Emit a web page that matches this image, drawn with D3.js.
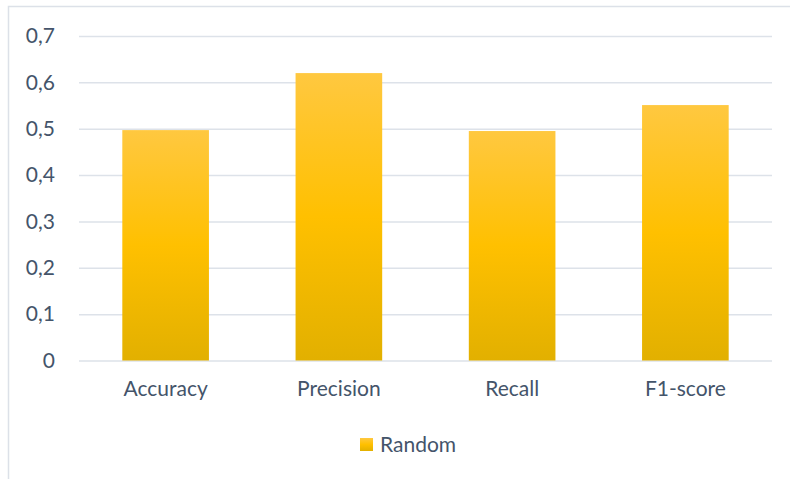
<!DOCTYPE html>
<html>
<head>
<meta charset="utf-8">
<script src="https://cdn.jsdelivr.net/npm/d3@7"></script>
<style>
  html, body { margin: 0; padding: 0; background: #fff; }
  svg { display: block; }
  text { font-family: Lato, "Open Sans", sans-serif; fill: #44546A; }
</style>
</head>
<body>
<svg id="chart" width="790" height="479"></svg>
<script>
// Scores of the random baseline per metric
const categories = ["Accuracy", "Precision", "Recall", "F1-score"];
const values = [0.497, 0.620, 0.495, 0.551];
const yTicks = [0, 0.1, 0.2, 0.3, 0.4, 0.5, 0.6, 0.7];
const seriesName = "Random";

const svg = d3.select("#chart");
const W = 790, H = 479;
const plot = { left: 79, right: 772, top: 36, bottom: 360.5 };
const fontSize = 21;

// Chart frame
svg.append("rect")
  .attr("x", 8.5).attr("y", 6.5)
  .attr("width", W + 10).attr("height", H + 10)
  .attr("fill", "none").attr("stroke", "#DCE1E8").attr("stroke-width", 1.5);

// Vertical gradient for the bars
const defs = svg.append("defs");
const grad = defs.append("linearGradient")
  .attr("id", "barFill").attr("x1", 0).attr("y1", 0).attr("x2", 0).attr("y2", 1);
grad.append("stop").attr("offset", "0%").attr("stop-color", "#FFC840");
grad.append("stop").attr("offset", "50%").attr("stop-color", "#FFC000");
grad.append("stop").attr("offset", "100%").attr("stop-color", "#E2B000");

const x = d3.scaleBand().domain(categories)
  .range([plot.left, plot.right]).paddingInner(0.5).paddingOuter(0.25);
const y = d3.scaleLinear().domain([0, 0.7]).range([plot.bottom, plot.top]);

// Gridlines and tick labels
const fmt = v => d3.format(".1~f")(v).replace(".", ",");
const yAxis = d3.axisLeft(y).tickValues(yTicks).tickFormat(fmt)
  .tickSize(-(plot.right - plot.left)).tickPadding(24);
const gy = svg.append("g").attr("transform", `translate(${plot.left},0)`).call(yAxis);
gy.select(".domain").remove();
gy.selectAll(".tick line").attr("stroke", "#DDE2E9").attr("stroke-width", 1.5);
gy.selectAll(".tick text")
  .attr("font-size", fontSize).attr("fill", "#44546A").attr("stroke", "none")
  .style("font-family", "Lato, 'Open Sans', sans-serif");

// Bars
svg.append("g").selectAll("rect")
  .data(categories.map((c, i) => ({ c, v: values[i] })))
  .join("rect")
  .attr("x", d => x(d.c))
  .attr("y", d => y(d.v))
  .attr("width", x.bandwidth())
  .attr("height", d => y(0) - y(d.v))
  .attr("fill", "url(#barFill)");

// Category labels
const xAxis = d3.axisBottom(x).tickSize(0).tickPadding(21);
const gx = svg.append("g").attr("transform", `translate(0,${plot.bottom})`).call(xAxis);
gx.select(".domain").remove();
gx.selectAll(".tick text")
  .attr("font-size", fontSize).attr("fill", "#44546A")
  .style("font-family", "Lato, 'Open Sans', sans-serif");

// Legend
const legend = svg.append("g").attr("transform", "translate(360,438)");
legend.append("rect").attr("width", 13).attr("height", 13).attr("fill", "url(#barFill)");
legend.append("text").attr("x", 20).attr("y", 14)
  .attr("font-size", fontSize).text(seriesName);
</script>
</body>
</html>
